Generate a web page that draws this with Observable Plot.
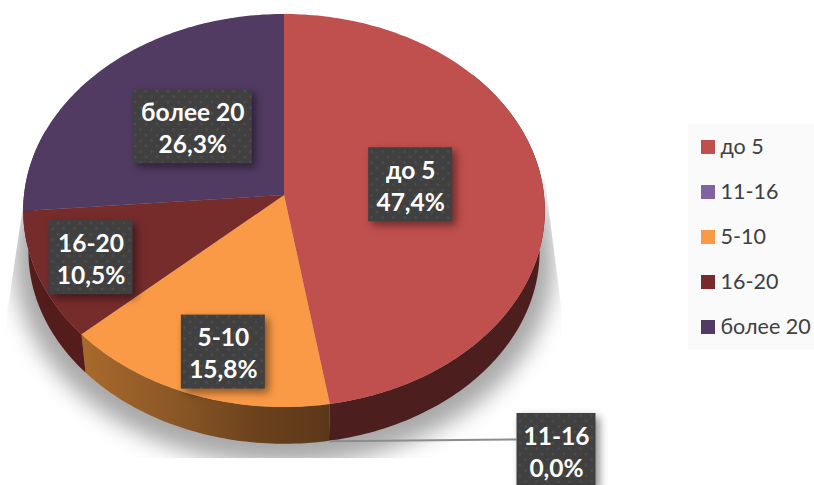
<!DOCTYPE html>
<html><head><meta charset="utf-8">
<style>html,body{margin:0;padding:0;background:#fff}svg{display:block}</style>
<script src="https://cdn.jsdelivr.net/npm/d3@7"></script>
<script src="https://cdn.jsdelivr.net/npm/@observablehq/plot@0.6"></script>
</head><body><script>
const categories = ["до 5", "11-16", "5-10", "16-20", "более 20"];
const shares = [47.4, 0.0, 15.8, 10.5, 26.3];
const shareLabels = ["47,4%", "0,0%", "15,8%", "10,5%", "26,3%"];
const topColors = ["#c0504d", "#8064a2", "#fb9a46", "#772c2c", "#513b63"];
const wallColors = ["#4c1f1e", "#4a3560", "url(#orangeWall)", "#551c1c", "#3a2a48"];

// perspective of the tilted disc, in picture units
const cx = 284, cy = 195, rx = 260, ry = 195.3, tilt = -0.0789;
const total = d3.sum(shares);
function disc(theta, scale = 1, drop = 0) {
  const u = Math.sin(theta), v = -Math.cos(theta), w = 1 + tilt * v;
  return {x: cx + scale * rx * u / w, y: cy + drop + scale * ry * v / w};
}
let acc = 0;
const slices = categories.map((name, i) => {
  const start = acc / total * 2 * Math.PI;
  acc += shares[i];
  return {name, i, start, end: acc / total * 2 * Math.PI, mid: (start + acc / total * 2 * Math.PI) / 2};
});
const rad = d => d * Math.PI / 180;
function arc(a, b) {
  const n = Math.max(1, Math.ceil((b - a) / rad(1)));
  return d3.range(n + 1).map(k => a + (b - a) * k / n);
}
const topRows = slices.flatMap(s => arc(s.start, s.end).map(t => {
  const p = disc(t);
  return {name: s.name, x1: cx, y1: cy, x2: p.x, y2: p.y};
}));
const wallRows = slices.flatMap(s => {
  const a = Math.max(s.start, rad(50)), b = Math.min(s.end, rad(290));
  if (b <= a) return [];
  return arc(a, b).map(t => {
    const p = disc(t), q = disc(t, 0.98, 41);
    return {name: s.name, i: s.i, x1: p.x, y1: p.y, x2: q.x, y2: q.y};
  });
});
const shadowRows = arc(0, 2 * Math.PI).map(t => {
  const p = disc(t, 1.035, 50);
  return {x1: cx, y1: cy + 50, x2: p.x, y2: p.y};
});

// label placement: how far along the radius, plus a nudge in picture units
const labelReach = [0.49, 1, 0.72, 0.77, 0.5];
const labelNudge = [[0, -3], [0, 0], [5, 13], [-4, 0], [-1, -6]];
const boxWidths = [84, 79, 84, 84, 119];
const boxH = 74;
const outside = {x: 556, y: 450};
const labels = slices.map(s => {
  const p = disc(s.mid);
  const inside = s.i !== 1;
  const x = inside ? cx + (p.x - cx) * labelReach[s.i] + labelNudge[s.i][0] : outside.x;
  const y = inside ? cy + (p.y - cy) * labelReach[s.i] + labelNudge[s.i][1] : outside.y;
  return {name: s.name, text: s.name + "\n" + shareLabels[s.i], x, y, w: boxWidths[s.i]};
});
const leaderStart = disc(slices[1].mid, 0.98, 41);
const leader = [{x1: leaderStart.x, y1: leaderStart.y, x2: outside.x - 40, y2: 439}];

const legendRows = categories.map((name, i) => ({name, row: i}));
const legendY = r => 147 + r * 45;
const font = "Lato, 'Noto Sans', sans-serif";

const defs = () => {
  const g = d3.create("svg:defs");
  g.html(`
    <linearGradient id="orangeWall" gradientUnits="userSpaceOnUse" x1="85" x2="330" y1="0" y2="0">
      <stop offset="0" stop-color="#a9692c"/><stop offset="0.35" stop-color="#8c5827"/>
      <stop offset="0.7" stop-color="#6c421d"/><stop offset="1" stop-color="#5b3719"/>
    </linearGradient>
    <pattern id="dots" patternUnits="userSpaceOnUse" width="11" height="11">
      <rect width="11" height="11" fill="#404040"/>
      <circle cx="3" cy="3" r="1.5" fill="#4b4b4b"/><circle cx="8.5" cy="8.5" r="1.5" fill="#4b4b4b"/>
    </pattern>
    <clipPath id="shadowClip"><polygon points="27,180 7,313 7,458 562,458 562,313 545,180"/></clipPath>`);
  return g.node();
};

const chart = Plot.plot({
  width: 814, height: 485, margin: 0,
  style: {background: "#fff", fontFamily: font},
  x: {domain: [0, 814], range: [0, 814], axis: null},
  y: {domain: [0, 485], range: [0, 485], axis: null},
  color: {domain: categories, range: topColors},
  marks: [
    defs,
    Plot.area(shadowRows, {x1: "x1", y1: "y1", x2: "x2", y2: "y2", fill: "#a8a8a8", imageFilter: "blur(11px)", className: "pie-shadow"}),
    ...slices.filter(s => wallRows.some(r => r.i === s.i)).map(s =>
      Plot.area(wallRows.filter(r => r.i === s.i), {x1: "x1", y1: "y1", x2: "x2", y2: "y2", fill: wallColors[s.i]})),
    Plot.link(leader, {x1: "x1", y1: "y1", x2: "x2", y2: "y2", stroke: "#8c8c8c", strokeWidth: 2}),
    Plot.area(topRows, {x1: "x1", y1: "y1", x2: "x2", y2: "y2", z: "name", fill: "name"}),
    Plot.rect(labels, {x1: d => d.x - d.w / 2, x2: d => d.x + d.w / 2, y1: d => d.y - boxH / 2, y2: d => d.y + boxH / 2,
      fill: "url(#dots)", imageFilter: "drop-shadow(4px 4px 4px rgba(0,0,0,0.45))"}),
    Plot.text(labels, {x: "x", y: "y", text: "text", fill: "#fff", fontWeight: 700, fontSize: 24.5, lineHeight: 1.31, fontFamily: font}),
    Plot.rect([{}], {x1: () => 688, x2: () => 814, y1: () => 124, y2: () => 350, fill: "#fafafa"}),
    Plot.rect(legendRows, {x1: () => 701, x2: () => 715, y1: d => legendY(d.row) - 7, y2: d => legendY(d.row) + 7, fill: "name"}),
    Plot.text(legendRows, {x: () => 720, y: d => legendY(d.row), text: "name", textAnchor: "start", fill: "#404040", fontSize: 21.5, fontFamily: font})
  ]
});
document.body.appendChild(chart);
d3.select(chart).select(".pie-shadow").attr("clip-path", "url(#shadowClip)");
</script></body></html>
